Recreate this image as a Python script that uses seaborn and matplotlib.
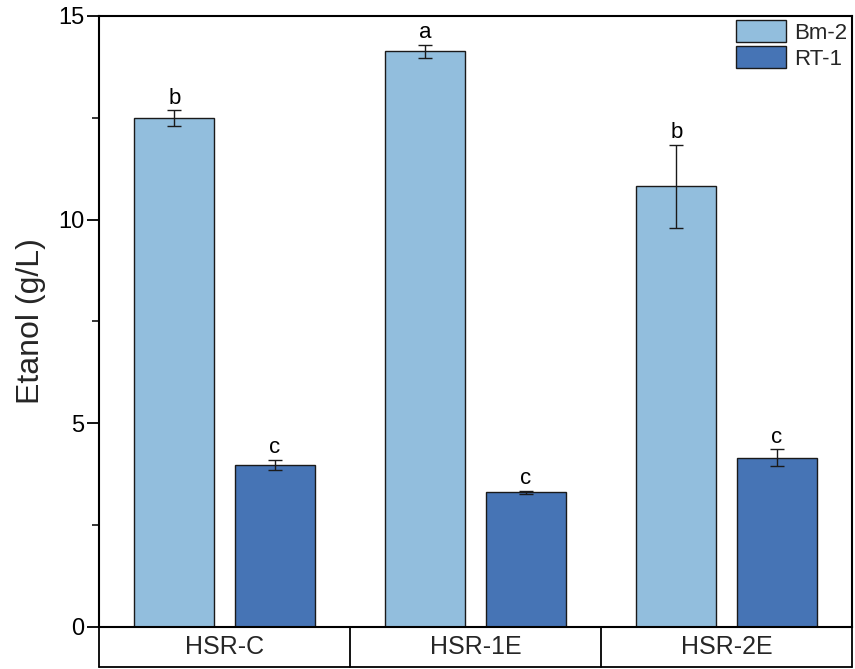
import matplotlib
matplotlib.use("Agg")
import matplotlib.pyplot as plt
import seaborn as sns
import pandas as pd
from matplotlib.ticker import MultipleLocator

categories = ["HSR-C", "HSR-1E", "HSR-2E"]
strains = ["Bm-2", "RT-1"]
bm2_mean = [12.49, 14.13, 10.82]
bm2_err = [0.19, 0.17, 1.02]
rt1_mean = [3.98, 3.31, 4.15]
rt1_err = [0.13, 0.04, 0.21]
bm2_letters = ["b", "a", "b"]
rt1_letters = ["c", "c", "c"]
colors = ["#92BEDD", "#4674B5"]

df = pd.DataFrame({
    "category": categories * 2,
    "strain": [strains[0]] * 3 + [strains[1]] * 3,
    "value": bm2_mean + rt1_mean,
})

sns.set_theme(style="ticks")
plt.rcParams["font.family"] = ["Liberation Sans", "DejaVu Sans"]

fig = plt.figure(figsize=(8.55, 6.69), dpi=100)
ax = fig.add_axes([0.1158, 0.0628, 0.8807, 0.9133])

sns.barplot(data=df, x="category", y="value", hue="strain", order=categories,
            hue_order=strains, palette=colors, saturation=1, width=0.8, gap=0.2,
            edgecolor="#1a1a1a", linewidth=1.0, errorbar=None, ax=ax)

for cont, means, errs, letters in zip(ax.containers, [bm2_mean, rt1_mean],
                                      [bm2_err, rt1_err], [bm2_letters, rt1_letters]):
    for bar, m, e, l in zip(cont, means, errs, letters):
        xc = bar.get_x() + bar.get_width() / 2
        ax.errorbar(xc, m, yerr=e, fmt="none", ecolor="#1a1a1a", elinewidth=1.0,
                    capsize=5, capthick=1.0, zorder=5)
        ax.annotate(l, (xc, m + e), xytext=(0, 4.5), textcoords="offset points",
                    ha="center", va="baseline", fontsize=16, color="black")

ax.set_xlim(-0.5, 2.5)
ax.set_ylim(0, 15)
ax.yaxis.set_major_locator(MultipleLocator(5))
ax.yaxis.set_minor_locator(MultipleLocator(2.5))
ax.set_xticks([])
ax.set_xlabel("")
ax.set_ylabel("Etanol (g/L)", fontsize=23, labelpad=9)
ax.tick_params(axis="y", which="major", length=8.5, width=1.3, direction="out",
               labelsize=17, pad=2, colors="black")
ax.tick_params(axis="y", which="minor", length=5, width=1.3, direction="out")
for s in ax.spines.values():
    s.set_visible(True)
    s.set_linewidth(1.5)
    s.set_color("black")

# category box below the axis
box_h = 40 / (0.9133 * 669)
tr = ax.get_xaxis_transform()
for xb in [-0.5, 0.5, 1.5, 2.5]:
    ax.plot([xb, xb], [0, -box_h], transform=tr, color="black", lw=1.3, clip_on=False)
ax.plot([-0.5, 2.5], [-box_h, -box_h], transform=tr, color="black", lw=1.3, clip_on=False)
for i, c in enumerate(categories):
    ax.text(i, -box_h / 2, c, transform=tr, ha="center", va="center", fontsize=18)

leg = ax.legend(title=None, loc="upper right", frameon=False, fontsize=16,
                handlelength=2.25, handleheight=1.1, labelspacing=0.12,
                handletextpad=0.4, borderaxespad=0.05, borderpad=0.15)
for h in leg.legend_handles:
    h.set_edgecolor("#1a1a1a")
    h.set_linewidth(1.0)

fig.savefig("out.png", dpi=100)
